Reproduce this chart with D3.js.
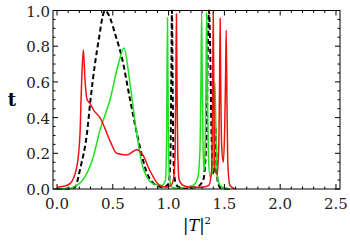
<!DOCTYPE html>
<html>
<head>
<meta charset="utf-8">
<script src="https://cdn.jsdelivr.net/npm/d3@7"></script>
<style>
  body { margin: 0; background: #fff; }
  svg { display: block; }
  text { font-family: "DejaVu Serif", "Liberation Serif", "Times New Roman", serif; }
  .tick-label { font-size: 15px; fill: #222; }
</style>
</head>
<body>
<div id="chart"></div>
<script>
// x = |T|^2, y = t, three curves
const blackX = [0.00, 0.10, 0.16, 0.21, 0.27, 0.30, 0.34, 0.38, 0.41, 0.43, 0.45, 0.48, 0.52, 0.58, 0.655, 0.73, 0.80, 0.89, 0.95, 1.00, 1.015, 1.024, 1.03, 1.036, 1.045, 1.06, 1.09, 1.15, 1.25, 1.31, 1.34, 1.352, 1.362, 1.372, 1.385, 1.40, 1.412, 1.42, 1.428, 1.44, 1.47, 1.55];
const blackY = [0.00, 0.002, 0.01, 0.12, 0.32, 0.50, 0.70, 0.86, 0.97, 1.00, 0.99, 0.95, 0.87, 0.74, 0.50, 0.27, 0.10, 0.02, 0.01, 0.03, 0.15, 0.60, 1.00, 0.60, 0.15, 0.04, 0.01, 0.005, 0.01, 0.05, 0.30, 0.80, 1.00, 0.80, 0.30, 0.08, 0.20, 0.35, 0.20, 0.04, 0.005, 0.00];

const greenX = [0.00, 0.10, 0.16, 0.23, 0.32, 0.385, 0.475, 0.55, 0.60, 0.654, 0.714, 0.77, 0.86, 0.94, 0.972, 0.982, 0.99, 0.998, 1.008, 1.03, 1.08, 1.15, 1.22, 1.26, 1.28, 1.29, 1.296, 1.302, 1.31, 1.318, 1.327, 1.335, 1.341, 1.347, 1.356, 1.37, 1.395, 1.405, 1.415, 1.425, 1.44, 1.48, 1.55];
const greenY = [0.00, 0.003, 0.015, 0.05, 0.17, 0.33, 0.50, 0.70, 0.79, 0.59, 0.31, 0.12, 0.03, 0.02, 0.05, 0.30, 0.96, 0.30, 0.06, 0.01, 0.005, 0.01, 0.02, 0.06, 0.20, 0.60, 0.99, 0.60, 0.20, 0.10, 0.20, 0.60, 0.99, 0.60, 0.20, 0.07, 0.10, 0.30, 0.60, 0.30, 0.05, 0.01, 0.00];

const redX = [0.00, 0.06, 0.116, 0.176, 0.206, 0.22, 0.236, 0.25, 0.27, 0.296, 0.33, 0.385, 0.475, 0.535, 0.625, 0.714, 0.77, 0.83, 0.92, 0.98, 1.02, 1.045, 1.058, 1.065, 1.07, 1.075, 1.082, 1.095, 1.13, 1.20, 1.30, 1.36, 1.385, 1.394, 1.40, 1.406, 1.415, 1.435, 1.45, 1.457, 1.462, 1.467, 1.475, 1.49, 1.503, 1.51, 1.516, 1.522, 1.53, 1.55, 1.60];
const redY = [0.01, 0.015, 0.03, 0.12, 0.31, 0.59, 0.78, 0.62, 0.50, 0.48, 0.44, 0.40, 0.27, 0.20, 0.19, 0.22, 0.19, 0.106, 0.02, 0.01, 0.02, 0.06, 0.20, 0.60, 0.98, 0.60, 0.20, 0.05, 0.02, 0.01, 0.01, 0.02, 0.10, 0.50, 0.99, 0.50, 0.12, 0.08, 0.25, 0.60, 0.955, 0.60, 0.25, 0.15, 0.35, 0.60, 0.89, 0.55, 0.15, 0.02, 0.00];

const xMajor = [0, 0.5, 1, 1.5, 2, 2.5];
const xLabels = ['0.0', '0.5', '1.0', '1.5', '2.0', '2.5'];
const yMajor = [0, 0.2, 0.4, 0.6, 0.8, 1.0];
const yLabels = ['0.0', '0.2', '0.4', '0.6', '0.8', '1.0'];

const width = 350, height = 245;
const m = { left: 53, right: 340, top: 10.5, bottom: 189 };

const svg = d3.select('#chart').append('svg')
  .attr('width', width)
  .attr('height', height);

const x = d3.scaleLinear().domain([-0.036, 2.536]).range([m.left, m.right]);
const y = d3.scaleLinear().domain([0, 1]).range([m.bottom, m.top]);

const line = d3.line()
  .x(d => x(d[0]))
  .y(d => y(d[1]))
  .curve(d3.curveMonotoneX);

const series = [
  { xs: blackX, ys: blackY, color: '#000', width: 2, dash: '5,3' },
  { xs: greenX, ys: greenY, color: '#1ee01e', width: 1.5, dash: null },
  { xs: redX, ys: redY, color: '#ee1111', width: 1.5, dash: null }
];

const plot = svg.append('g');
series.forEach(s => {
  plot.append('path')
    .datum(s.xs.map((v, i) => [v, s.ys[i]]))
    .attr('d', line)
    .attr('fill', 'none')
    .attr('stroke', s.color)
    .attr('stroke-width', s.width)
    .attr('stroke-dasharray', s.dash);
});

// frame with inward ticks on all four sides
const frame = svg.append('g').attr('stroke', '#000').attr('stroke-width', 1);
frame.append('rect')
  .attr('x', m.left).attr('y', m.top)
  .attr('width', m.right - m.left).attr('height', m.bottom - m.top)
  .attr('fill', 'none');

const xMinor = d3.range(0, 26).map(i => i / 10).filter(v => !xMajor.some(t => Math.abs(t - v) < 1e-9));
const yMinor = d3.range(0, 21).map(i => i / 20).filter(v => !yMajor.some(t => Math.abs(t - v) < 1e-9));

function xTicks(vals, len) {
  vals.forEach(v => {
    frame.append('line').attr('x1', x(v)).attr('x2', x(v)).attr('y1', m.bottom).attr('y2', m.bottom - len);
    frame.append('line').attr('x1', x(v)).attr('x2', x(v)).attr('y1', m.top).attr('y2', m.top + len);
  });
}
function yTicks(vals, len) {
  vals.forEach(v => {
    frame.append('line').attr('y1', y(v)).attr('y2', y(v)).attr('x1', m.left).attr('x2', m.left + len);
    frame.append('line').attr('y1', y(v)).attr('y2', y(v)).attr('x1', m.right).attr('x2', m.right - len);
  });
}
xTicks(xMajor, 5);
xTicks(xMinor, 2.5);
yTicks(yMajor, 5);
yTicks(yMinor, 2.5);

// tick labels
svg.selectAll('.xl').data(xMajor).enter().append('text')
  .attr('class', 'tick-label')
  .attr('x', d => x(d))
  .attr('y', 209)
  .attr('text-anchor', 'middle')
  .text((d, i) => xLabels[i]);

svg.selectAll('.yl').data(yMajor).enter().append('text')
  .attr('class', 'tick-label')
  .attr('x', m.left - 3)
  .attr('y', d => y(d) + 6)
  .attr('text-anchor', 'end')
  .text((d, i) => yLabels[i]);

// axis titles
svg.append('text')
  .attr('x', 12).attr('y', 106)
  .attr('text-anchor', 'middle')
  .style('font-size', '18px')
  .style('font-weight', 'bold')
  .text('t');

const xt = svg.append('text')
  .attr('x', 197).attr('y', 231)
  .attr('text-anchor', 'middle')
  .style('font-size', '16px');
xt.append('tspan').text('|');
xt.append('tspan').style('font-style', 'italic').text('T');
xt.append('tspan').text('|');
xt.append('tspan').attr('dy', -7).style('font-size', '10px').text('2');
</script>
</body>
</html>
